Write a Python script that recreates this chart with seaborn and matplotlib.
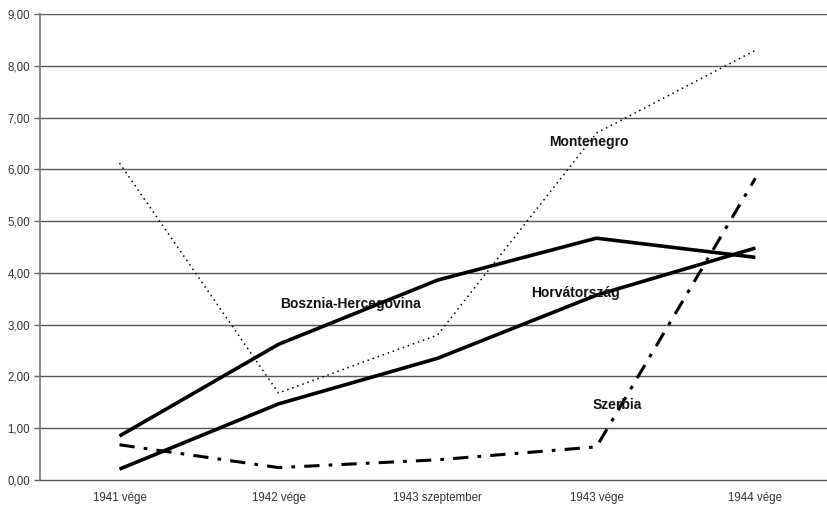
import matplotlib
matplotlib.use("Agg")
import matplotlib.pyplot as plt
from matplotlib.ticker import FuncFormatter, FixedLocator
import seaborn as sns
import pandas as pd

periods = ["1941 vége", "1942 vége", "1943 szeptember", "1943 vége", "1944 vége"]
bosznia = [0.85, 2.62, 3.86, 4.67, 4.30]
horvat = [0.21, 1.47, 2.35, 3.57, 4.48]
montenegro = [6.12, 1.68, 2.80, 6.70, 8.30]
szerbia = [0.68, 0.24, 0.39, 0.64, 5.83]

series = {
    "Bosznia-Hercegovina": bosznia,
    "Horvátország": horvat,
    "Montenegro": montenegro,
    "Szerbia": szerbia,
}

sns.set_theme(style="white")
plt.rcParams["font.family"] = ["Liberation Sans", "DejaVu Sans"]

fig = plt.figure(figsize=(8.27, 5.05), dpi=100)
ax = fig.add_axes([40 / 827, 1 - 480 / 505, 1 - 40 / 827, (480 - 14) / 505])

styles = {
    "Bosznia-Hercegovina": dict(lw=2.6, linestyle="-"),
    "Horvátország": dict(lw=2.6, linestyle="-"),
    "Montenegro": dict(lw=1.1, linestyle=(0, (1, 2.5))),
    "Szerbia": dict(lw=2.2, linestyle=(0, (5, 3, 1.2, 3))),
}

for name, vals in series.items():
    df = pd.DataFrame({"x": range(len(periods)), "y": vals})
    sns.lineplot(data=df, x="x", y="y", ax=ax, color="black",
                 solid_capstyle="butt", dash_capstyle="butt", **styles[name])

ax.set_xlim(-0.5, 4.45)
ax.set_ylim(0, 9)
ax.set_yticks(range(0, 10))
ax.yaxis.set_major_formatter(FuncFormatter(lambda v, p: f"{v:.2f}".replace(".", ",")))
ax.set_xticks(range(len(periods)))
ax.set_xticklabels(periods)
ax.xaxis.set_minor_locator(FixedLocator([i + 0.5 for i in range(-1, 5)]))
ax.tick_params(axis="x", which="major", length=0, labelsize=8.3, pad=9, colors="#333333")
ax.tick_params(axis="x", which="minor", length=4, width=1, color="#666666", direction="out")
ax.tick_params(axis="y", length=4, width=1, color="#666666", direction="out",
               labelsize=8.3, pad=3, labelcolor="#333333", left=True)
ax.set_xlabel("")
ax.set_ylabel("")

for v in range(1, 10):
    ax.axhline(v, color="#555555", lw=1, zorder=0)

for s in ["top", "right"]:
    ax.spines[s].set_visible(False)
ax.spines["left"].set_color("#777777")
ax.spines["left"].set_linewidth(1.2)
ax.spines["bottom"].set_color("#555555")
ax.spines["bottom"].set_linewidth(1)

labels = [
    ("Bosznia-Hercegovina", 1.45, 3.40),
    ("Horvátország", 2.87, 3.62),
    ("Montenegro", 2.95, 6.52),
    ("Szerbia", 3.13, 1.45),
]
for text, x, y in labels:
    ax.text(x, y, text, fontsize=10, fontweight="bold", ha="center", va="center",
            color="#111111")

fig.savefig("out.png", dpi=100, facecolor="white")
